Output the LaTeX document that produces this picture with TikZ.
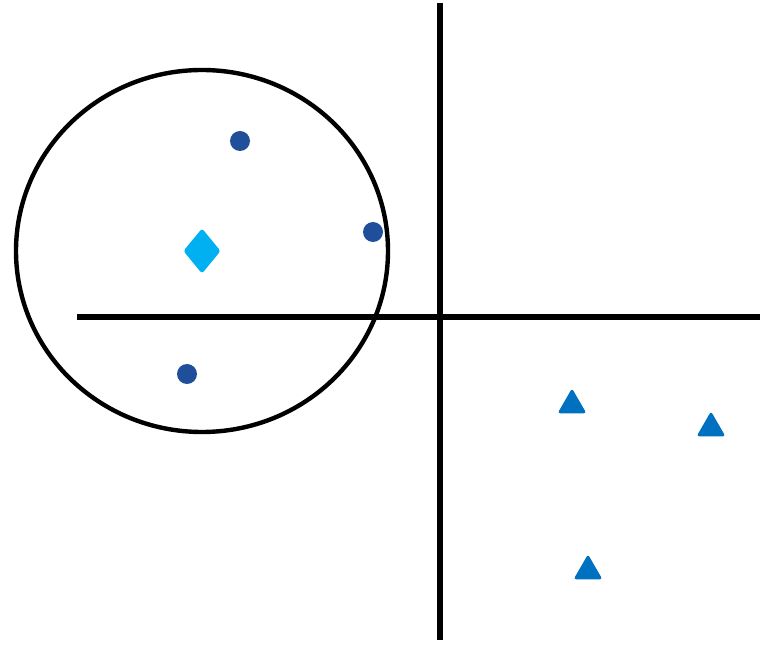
\documentclass[tikz,border=0pt]{standalone}
\usepackage{tikz}
\usetikzlibrary{shapes.geometric}
\definecolor{dotBlue}{RGB}{31,78,154}
\definecolor{triBlue}{RGB}{0,112,192}
\definecolor{diaCyan}{RGB}{0,176,240}

\begin{document}
\begin{tikzpicture}[x=0.75pt,y=-0.75pt,
    axis/.style={line width=3.8pt,black},
    sample/.style={circle,fill=dotBlue,inner sep=0pt,minimum size=15pt},
    query/.style={diamond,fill=diaCyan,inner sep=0pt,minimum width=28pt,minimum height=34pt,rounded corners=2pt},
    other/.style={regular polygon,regular polygon sides=3,fill=triBlue,inner sep=0pt,minimum size=25pt,rounded corners=2pt}]
  \useasboundingbox (0,0) rectangle (769,645);
  % axes
  \coordinate (yTop) at (440,3);
  \coordinate (yBot) at (440,640);
  \coordinate (xLeft) at (77,317);
  \coordinate (xRight) at (760,317);
  \draw[axis] (yTop) -- (yBot);
  \draw[axis] (xLeft) -- (xRight);
  % neighbourhood around the query
  \node[query] (q) at (202,251) {};
  \draw[line width=3.3pt] (q.center) ellipse [x radius=186, y radius=181];
  \node[sample] (s1) at (240,141) {};
  \node[sample] (s2) at (373,232) {};
  \node[sample] (s3) at (187,374) {};
  % far class
  \node[other] (t1) at (572,405) {};
  \node[other] (t2) at (711,428) {};
  \node[other] (t3) at (588,571) {};
\end{tikzpicture}
\end{document}
